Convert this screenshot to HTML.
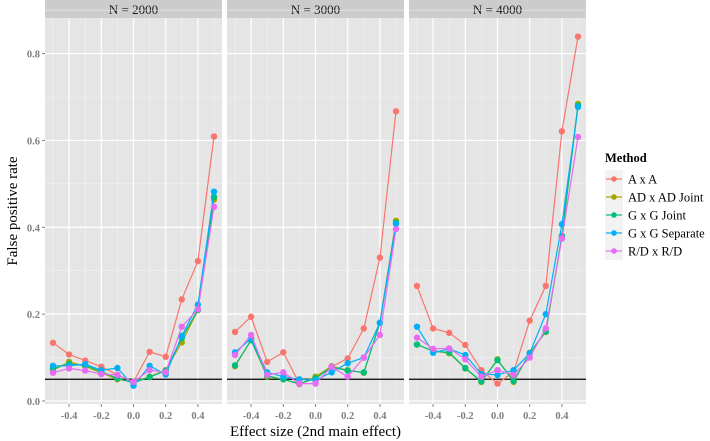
<!DOCTYPE html>
<html><head><meta charset="utf-8"><style>
body{margin:0;background:#fff;}
svg{display:block;font-family:"Liberation Serif",serif;}
</style></head><body>
<svg id="chart" width="710" height="441"></svg>
<script>
const xValues=[-0.5,-0.4,-0.3,-0.2,-0.1,0,0.1,0.2,0.3,0.4,0.5];
const panelTitles=["N = 2000","N = 3000","N = 4000"];
const methodNames=["A x A","AD x AD Joint","G x G Joint","G x G Separate","R/D x R/D"];
const methodColors=["#F8766D","#A3A500","#00BF7D","#00B0F6","#E76BF3"];
const xTicks=[-0.4,-0.2,0,0.2,0.4];
const xTickLabels=["-0.4","-0.2","0.0","0.2","0.4"];
const yTicks=[0,0.2,0.4,0.6,0.8];
const yTickLabels=["0.0","0.2","0.4","0.6","0.8"];
const refLine=0.05;
const n2000AxA=[0.134,0.107,0.093,0.079,0.06,0.044,0.113,0.102,0.234,0.322,0.609];
const n2000ADJoint=[0.071,0.09,0.08,0.065,0.05,0.044,0.056,0.071,0.135,0.209,0.464];
const n2000GJoint=[0.075,0.085,0.082,0.068,0.052,0.042,0.055,0.07,0.145,0.21,0.47];
const n2000GSep=[0.081,0.081,0.085,0.071,0.076,0.035,0.081,0.061,0.15,0.222,0.482];
const n2000RD=[0.065,0.075,0.07,0.062,0.06,0.044,0.071,0.066,0.171,0.211,0.447];
const n3000AxA=[0.159,0.194,0.09,0.112,0.04,0.052,0.079,0.098,0.167,0.33,0.667];
const n3000ADJoint=[0.08,0.14,0.056,0.05,0.039,0.056,0.08,0.071,0.065,0.18,0.415];
const n3000GJoint=[0.082,0.14,0.058,0.05,0.04,0.052,0.078,0.07,0.066,0.18,0.41];
const n3000GSep=[0.112,0.144,0.066,0.056,0.05,0.048,0.066,0.087,0.1,0.18,0.408];
const n3000RD=[0.106,0.152,0.06,0.066,0.04,0.04,0.079,0.056,0.1,0.152,0.396];
const n4000AxA=[0.265,0.167,0.157,0.129,0.071,0.04,0.067,0.185,0.265,0.621,0.839];
const n4000ADJoint=[0.13,0.115,0.11,0.075,0.044,0.096,0.044,0.111,0.159,0.378,0.684];
const n4000GJoint=[0.13,0.115,0.112,0.076,0.045,0.094,0.046,0.11,0.16,0.38,0.68];
const n4000GSep=[0.171,0.111,0.12,0.106,0.062,0.06,0.071,0.11,0.2,0.407,0.677];
const n4000RD=[0.146,0.12,0.121,0.096,0.056,0.071,0.06,0.1,0.167,0.374,0.608];
const panelData=[
 [n2000AxA,n2000ADJoint,n2000GJoint,n2000GSep,n2000RD],
 [n3000AxA,n3000ADJoint,n3000GJoint,n3000GSep,n3000RD],
 [n4000AxA,n4000ADJoint,n4000GJoint,n4000GSep,n4000RD]];

const NS="http://www.w3.org/2000/svg";
const svg=document.getElementById('chart');
function el(tag,attrs,parent){const e=document.createElementNS(NS,tag);for(const k in attrs)e.setAttribute(k,attrs[k]);(parent||svg).appendChild(e);return e;}
const panelLeft=[45,227,409], panelW=177, plotTop=18, plotBottom=404;
const yScale=v=>401-434.3*v;
function xScale(p,v){return panelLeft[p]+panelW/2+v*161;}

for(let p=0;p<3;p++){
  const g=el('g',{});
  
  
  const L=panelLeft[p];
  const bg=el('rect',{x:L,y:plotTop,width:panelW,height:plotBottom-plotTop,fill:'#E5E5E5'},g);
  
  const st=el('rect',{x:L,y:0,width:panelW,height:plotTop,fill:'#CCCCCC'},g);
  
  const stt=el('text',{x:L+panelW/2,y:14,'text-anchor':'middle','font-size':13,fill:'#1a1a1a'},g);
  stt.textContent=panelTitles[p];
  
  for(let v=0.1;v<0.9;v+=0.2){el('line',{x1:L,x2:L+panelW,y1:yScale(v),y2:yScale(v),stroke:'#F2F2F2','stroke-width':0.6},g);}
  for(let v=-0.5;v<=0.51;v+=0.2){el('line',{x1:xScale(p,v),x2:xScale(p,v),y1:plotTop,y2:plotBottom,stroke:'#F2F2F2','stroke-width':0.6},g);}
  yTicks.forEach(v=>el('line',{x1:L,x2:L+panelW,y1:yScale(v),y2:yScale(v),stroke:'#fff','stroke-width':1.2},g));
  xTicks.forEach((v,i)=>{
    el('line',{x1:xScale(p,v),x2:xScale(p,v),y1:plotTop,y2:plotBottom,stroke:'#fff','stroke-width':1.2},g);
    el('line',{x1:xScale(p,v),x2:xScale(p,v),y1:plotBottom,y2:plotBottom+3,stroke:'#7f7f7f','stroke-width':1},g);
    const t=el('text',{x:xScale(p,v),y:plotBottom+15,'text-anchor':'middle','font-size':10.5,'font-weight':'bold',fill:'#7f7f7f'},g);
    t.textContent=xTickLabels[i];
    
  });
  const rl=el('line',{x1:L,x2:L+panelW,y1:yScale(refLine),y2:yScale(refLine),stroke:'#000','stroke-width':1.2},g);
  
  panelData[p].forEach((vals,m)=>{
    const pts=vals.map((v,i)=>xScale(p,xValues[i]).toFixed(1)+','+yScale(v).toFixed(1)).join(' ');
    const pl=el('polyline',{points:pts,fill:'none',stroke:methodColors[m],'stroke-width':1.2},g);
    
    vals.forEach((v,i)=>{
      const c=el('circle',{cx:xScale(p,xValues[i]),cy:yScale(v),r:3.2,fill:methodColors[m]},g);
      
    });
  });
}
yTicks.forEach((v,i)=>{
  el('line',{x1:42,x2:45,y1:yScale(v),y2:yScale(v),stroke:'#7f7f7f','stroke-width':1});
  const t=el('text',{x:40,y:yScale(v)+4,'text-anchor':'end','font-size':10.5,'font-weight':'bold',fill:'#7f7f7f'});
  t.textContent=yTickLabels[i];
  
});
const xt=el('text',{x:315.5,y:436,'text-anchor':'middle','font-size':15,fill:'#000'});
xt.textContent='Effect size (2nd main effect)';

const yt=el('text',{x:0,y:0,transform:'translate(17,211) rotate(-90)','text-anchor':'middle','font-size':15,fill:'#000'});
yt.textContent='False positive rate';

const lg=el('g',{});

const lt=el('text',{x:605,y:162,'font-size':12.5,'font-weight':'bold',fill:'#000'},lg);
lt.textContent='Method';

methodNames.forEach((n,m)=>{
  const cy=179+m*18;
  const eg=el('g',{},lg);
  
  el('rect',{x:605,y:cy-9,width:18,height:18,fill:'#F2F2F2'},eg);
  el('line',{x1:606,x2:622,y1:cy,y2:cy,stroke:methodColors[m],'stroke-width':1.2},eg);
  el('circle',{cx:614,cy:cy,r:2.8,fill:methodColors[m]},eg);
  const t=el('text',{x:628,y:cy+4.5,'font-size':12.5,fill:'#000'},eg);
  t.textContent=n;
});
</script>
</body></html>
